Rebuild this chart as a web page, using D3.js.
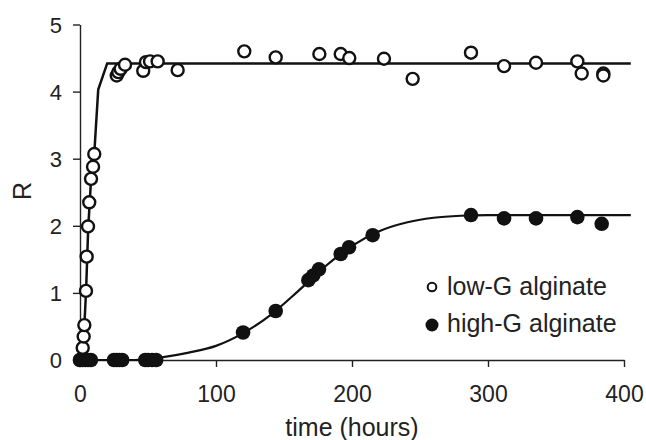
<!DOCTYPE html>
<html>
<head>
<meta charset="utf-8">
<script src="https://cdn.jsdelivr.net/npm/d3@7"></script>
<style>
  body { margin: 0; background: #fff; }
  svg text { font-family: "Liberation Sans", Arial, sans-serif; fill: #222; }
</style>
</head>
<body>
<svg id="chart" width="646" height="440"></svg>
<script>
// measured points, low-G alginate (time in hours, R)
const lowT = [0, 2.0, 2.7, 3.2, 4.4, 4.9, 5.9, 6.8, 8.1, 9.6, 10.5, 27.0, 28.2, 29.9, 33.1,
  46.5, 48.5, 51.5, 57.1, 71.8, 120.8, 143.9, 176.0, 191.7, 198.0, 223.5, 244.6,
  287.5, 311.8, 335.3, 365.7, 368.9, 384.8, 384.8];
const lowR = [0, 0.18, 0.35, 0.52, 1.03, 1.54, 1.99, 2.35, 2.70, 2.88, 3.07, 4.24, 4.29, 4.34, 4.40,
  4.31, 4.44, 4.45, 4.45, 4.32, 4.60, 4.51, 4.56, 4.56, 4.50, 4.49, 4.19,
  4.58, 4.38, 4.43, 4.45, 4.27, 4.27, 4.24];

// measured points, high-G alginate
const highT = [0, 2, 4, 6, 8, 25, 27, 29, 31, 48, 50, 53, 56,
  119.9, 143.9, 167.9, 171.5, 175.7, 191.7, 197.8, 215.2, 287.5, 311.8, 335.3, 365.7, 383.6];
const highR = [0, 0, 0, 0, 0, 0, 0, 0, 0, 0, 0, 0, 0,
  0.41, 0.73, 1.19, 1.26, 1.35, 1.58, 1.68, 1.86, 2.16, 2.11, 2.11, 2.13, 2.03];

// fitted curves
const lowFitT = [0, 2, 3.3, 4.5, 6, 8, 10.5, 13.4, 20, 405];
const lowFitR = [0, 0.2, 0.55, 1.05, 1.95, 2.65, 3.08, 4.03, 4.42, 4.42];
const highFitT = [0, 40, 60, 80, 100, 120, 140, 160, 180, 200, 220, 240, 260, 280, 300, 405];
const highFitR = [0, 0, 0.04, 0.11, 0.21, 0.40, 0.67, 1.02, 1.39, 1.70, 1.92, 2.05, 2.12, 2.15, 2.16, 2.16];

const xTicks = [0, 100, 200, 300, 400];
const yTicks = [0, 1, 2, 3, 4, 5];
const seriesNames = ["low-G alginate", "high-G alginate"];

const svg = d3.select("#chart");
const x = d3.scaleLinear().domain([0, 400]).range([80, 624]);
const y = d3.scaleLinear().domain([0, 5]).range([360, 24.5]);

const zip = (a, b) => a.map((d, i) => [d, b[i]]);

// axes
const xAxis = svg.append("g")
  .attr("transform", "translate(0,360)")
  .call(d3.axisBottom(x).tickValues(xTicks).tickFormat(d3.format("d")).tickSize(7).tickSizeOuter(0));
xAxis.selectAll("text").attr("y", 42).attr("dy", 0).style("font-size", "23px");

const yAxis = svg.append("g")
  .attr("transform", "translate(80,0)")
  .call(d3.axisLeft(y).tickValues(yTicks).tickFormat(d3.format("d")).tickSize(7).tickSizeOuter(0));
yAxis.selectAll("text").attr("x", -18).attr("dy", "0.35em").style("font-size", "22px");

svg.selectAll(".domain, .tick line").attr("stroke", "#222").attr("stroke-width", 1.4);
svg.selectAll(".tick text").attr("fill", "#222");

svg.append("text")
  .attr("x", 352).attr("y", 436)
  .attr("text-anchor", "middle")
  .style("font-size", "25px")
  .text("time (hours)");

svg.append("text")
  .attr("transform", "translate(31,191) rotate(-90)")
  .attr("text-anchor", "middle")
  .style("font-size", "25px")
  .text("R");

// fit lines
svg.append("path")
  .datum(zip(lowFitT, lowFitR))
  .attr("fill", "none").attr("stroke", "#111").attr("stroke-width", 2.5)
  .attr("d", d3.line().x(d => x(d[0])).y(d => y(d[1])));

svg.append("path")
  .datum(zip(highFitT, highFitR))
  .attr("fill", "none").attr("stroke", "#111").attr("stroke-width", 2.2)
  .attr("d", d3.line().curve(d3.curveMonotoneX).x(d => x(d[0])).y(d => y(d[1])));

// points
svg.append("g").selectAll("circle")
  .data(zip(lowT, lowR))
  .join("circle")
  .attr("cx", d => x(d[0])).attr("cy", d => y(d[1]))
  .attr("r", 6)
  .attr("fill", "#fff").attr("stroke", "#111").attr("stroke-width", 2.4);

svg.append("g").selectAll("circle")
  .data(zip(highT, highR))
  .join("circle")
  .attr("cx", d => x(d[0])).attr("cy", d => y(d[1]))
  .attr("r", 7.3)
  .attr("fill", "#111");

// legend
const legend = svg.append("g");
legend.append("circle").attr("cx", 432).attr("cy", 287).attr("r", 4.3)
  .attr("fill", "#fff").attr("stroke", "#111").attr("stroke-width", 2);
legend.append("circle").attr("cx", 432).attr("cy", 325).attr("r", 6.5).attr("fill", "#111");
legend.selectAll("text")
  .data(seriesNames)
  .join("text")
  .attr("x", 447)
  .attr("y", (d, i) => 295 + i * 37)
  .style("font-size", "25px")
  .text(d => d);
</script>
</body>
</html>
